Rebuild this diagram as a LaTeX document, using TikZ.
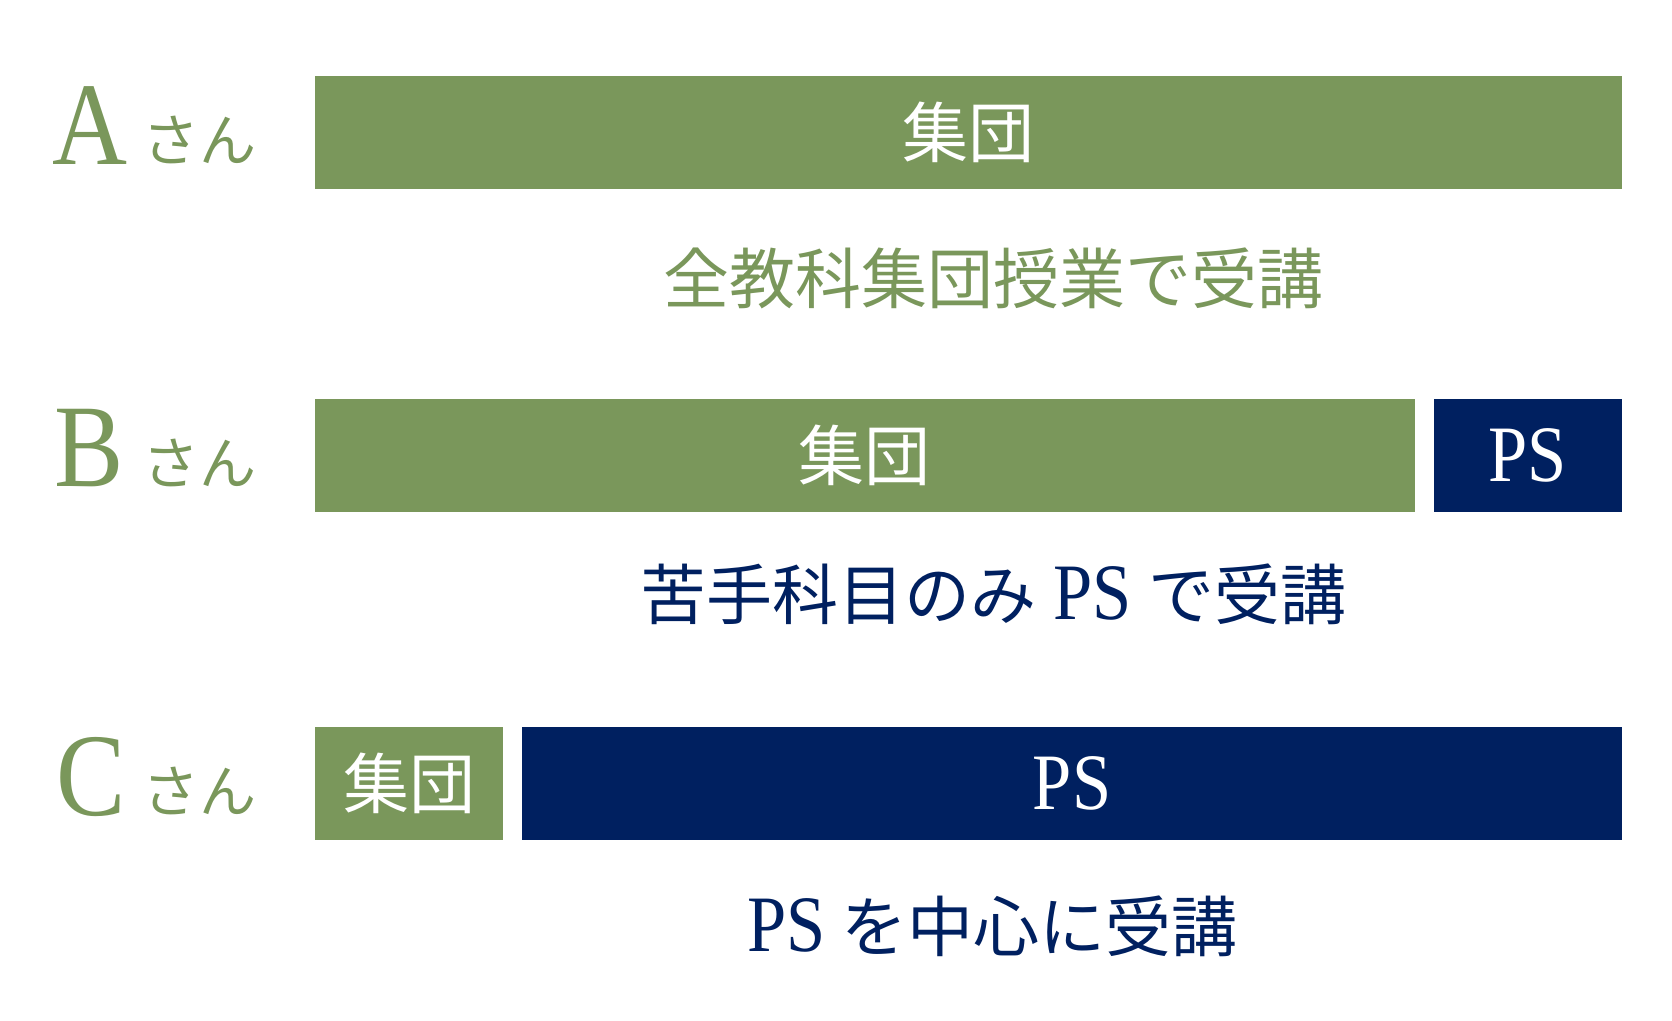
\documentclass[tikz,border=0pt]{standalone}
\usepackage{fontspec}
\setmainfont{Liberation Serif}
\newfontfamily\jp{Noto Sans CJK JP}
\definecolor{grn}{RGB}{122,151,91}
\definecolor{nvy}{RGB}{0,32,96}
\newcommand{\psfont}{\fontsize{80}{82}\selectfont}
\newcommand{\nps}{{\psfont\scalebox{0.88}[1]{PS}}}
\newcommand{\cond}[1]{\scalebox{0.88}[1]{#1}}
\begin{document}
\begin{tikzpicture}[x=1pt,y=-1pt,
  bar/.style={rectangle, inner sep=0pt, minimum height=113pt, text=white},
  gbar/.style={bar, fill=grn, font=\jp\fontsize{66}{70}\selectfont},
  pbar/.style={bar, fill=nvy},
  letter/.style={inner sep=0pt, anchor=south, text=grn, font=\fontsize{118}{120}\selectfont},
  san/.style={inner sep=0pt, anchor=south, text=grn, font=\jp\fontsize{57}{60}\selectfont},
  caption/.style={inner sep=0pt, font=\fontsize{66}{70}\selectfont}]
\useasboundingbox (0,0) rectangle (1672,1020);

% Row A
\node[letter] (la) at (90,164.7) {\cond{A}};
\node[san] (sa) at (199,164.5) {さん};
\node[gbar, minimum width=1307pt] (ga) at (968.5,132) {集団};
\node[caption, text=grn] (ca) at (993.5,278) {\jp 全教科集団授業で受講};

% Row B
\node[letter] (lb) at (89,487) {\cond{B}};
\node[san] (sb) at (199,487) {さん};
\node[gbar, minimum width=1099.5pt] (gb) at (864.75,455) {集団};
\node[pbar, minimum width=188.3pt] (pb) at (1527.85,455) {\nps};
\node[caption, text=nvy] (cb) at (993.5,594) {{\jp 苦手科目のみ} \nps{} {\jp で受講}};

% Row C
\node[letter] (lc) at (91,817) {\cond{C}};
\node[san] (sc) at (199,815) {さん};
\node[gbar, minimum width=188.3pt] (gc) at (409.15,783.5) {集団};
\node[pbar, minimum width=1100pt] (pc) at (1072,783.5) {\nps};
\node[caption, text=nvy] (cc) at (992.5,926) {\nps{} {\jp を中心に受講}};
\end{tikzpicture}
\end{document}
